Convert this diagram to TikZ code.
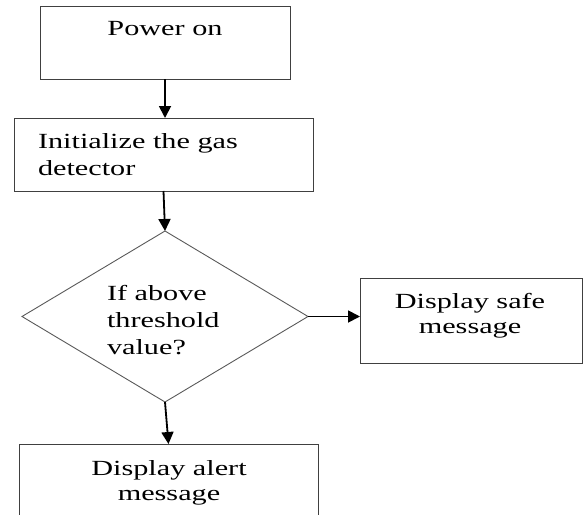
\documentclass[tikz,border=0pt]{standalone}
\usepackage{fontspec}
\setmainfont{Liberation Serif}[FakeStretch=1.4]
\usetikzlibrary{shapes.geometric,arrows.meta}
\begin{document}
\begin{tikzpicture}[x=1pt,y=-1pt,
  boxshape/.style={draw=black!75,line width=0.9pt,rectangle,inner sep=0pt,outer sep=0pt},
  decshape/.style={draw=black!65,line width=0.9pt,diamond,inner sep=0pt,outer sep=0pt},
  lbl/.style={inner sep=0pt,outer sep=0pt,font=\fontsize{21.6}{27}\selectfont},
  flow/.style={line width=1.8pt,-{Triangle[length=12pt,width=12pt]}}]
\useasboundingbox (0,0) rectangle (585,514);
\node[boxshape,minimum width=250pt,minimum height=73pt] (power) at (165,42.5) {};
\node[boxshape,minimum width=299pt,minimum height=73pt] (init) at (163.5,154.5) {};
\node[decshape,minimum width=286pt,minimum height=171pt] (dec) at (165,316.5) {};
\node[boxshape,minimum width=222pt,minimum height=85pt] (safe) at (471,320.5) {};
\node[boxshape,minimum width=299pt,minimum height=96pt] (alert) at (168.5,492) {};
\node[lbl,anchor=base] (tpower) at (165,35) {Power on};
\node[lbl,anchor=base west,align=left] (tinit) at (38,175) {Initialize the gas\\detector};
\node[lbl,anchor=base west,align=left] (tdec) at (107,354) {If above\\threshold\\value?};
\node[lbl,anchor=base,align=center,font=\fontsize{21.6}{25}\selectfont] (tsafe) at (470,333) {Display safe\\message};
\node[lbl,anchor=base,align=center,font=\fontsize{21.6}{25}\selectfont] (talert) at (169,500) {Display alert\\message};
\draw[flow] (power.south) -- (power.south |- init.north);
\draw[flow] (init.south) -- (dec.north);
\draw[flow] (dec.east) -- (dec.east -| safe.west);
\draw[flow] (dec.south) -- (alert.north);
\end{tikzpicture}
\end{document}
